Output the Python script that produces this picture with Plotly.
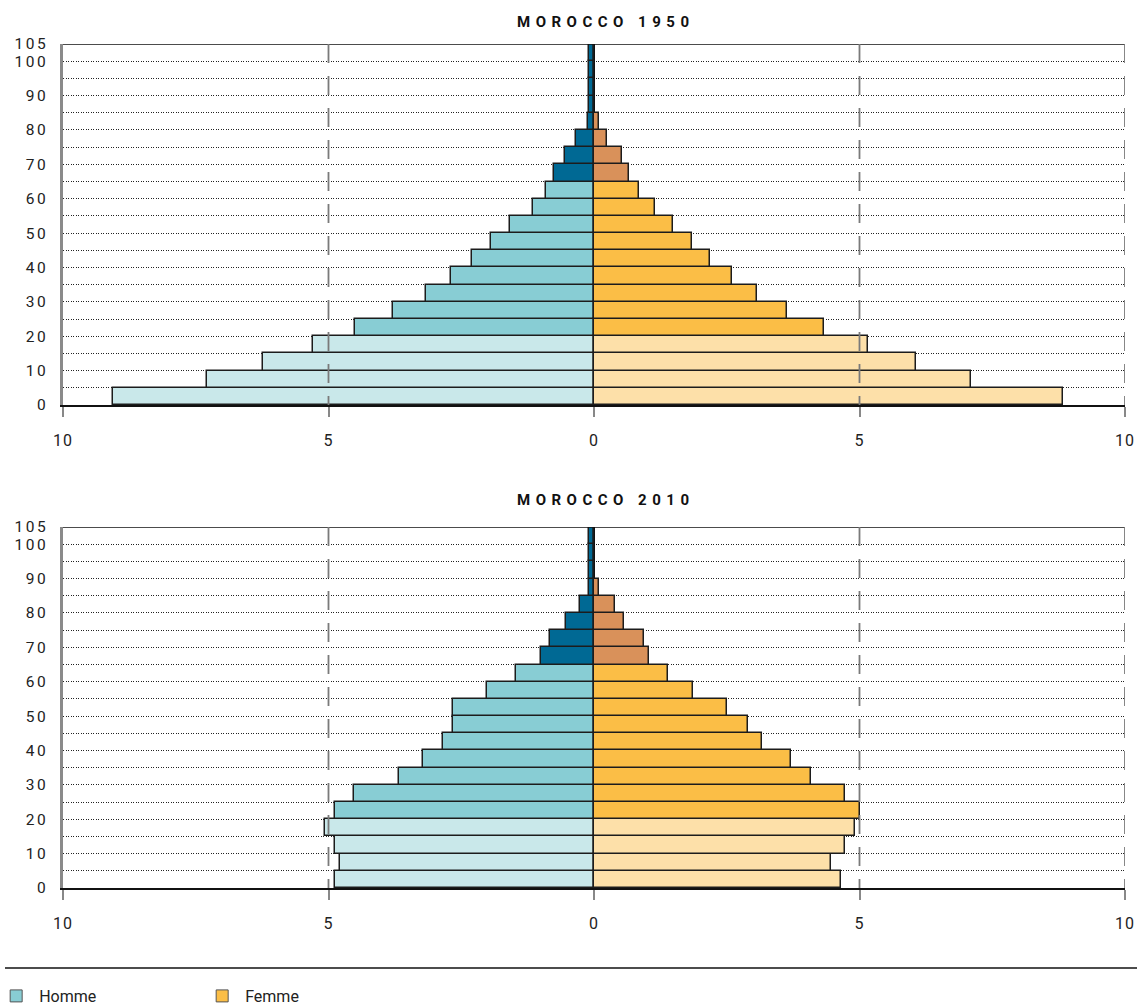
import plotly.graph_objects as go

# ---------------- data ----------------
age_start = [0, 5, 10, 15, 20, 25, 30, 35, 40, 45, 50, 55, 60, 65, 70, 75, 80, 85, 90, 95, 100]
age_labels = ["0-4", "5-9", "10-14", "15-19", "20-24", "25-29", "30-34", "35-39", "40-44",
              "45-49", "50-54", "55-59", "60-64", "65-69", "70-74", "75-79", "80-84",
              "85-89", "90-94", "95-99", "100+"]

homme_1950 = [9.06, 7.29, 6.23, 5.29, 4.50, 3.79, 3.16, 2.69, 2.30, 1.94, 1.58, 1.15, 0.90,
              0.75, 0.55, 0.34, 0.11, 0.10, 0.10, 0.10, 0.10]
femme_1950 = [8.83, 7.10, 6.06, 5.16, 4.33, 3.63, 3.07, 2.60, 2.18, 1.85, 1.48, 1.15, 0.85,
              0.66, 0.52, 0.24, 0.09, 0.0, 0.0, 0.0, 0.0]

homme_2010 = [4.88, 4.79, 4.88, 5.07, 4.88, 4.52, 3.67, 3.22, 2.84, 2.66, 2.66, 2.02, 1.47,
              0.99, 0.82, 0.53, 0.26, 0.09, 0.09, 0.09, 0.09]
femme_2010 = [4.65, 4.46, 4.73, 4.92, 5.01, 4.73, 4.09, 3.71, 3.16, 2.90, 2.50, 1.87, 1.40,
              1.03, 0.94, 0.57, 0.40, 0.10, 0.0, 0.0, 0.0]

x_tickvals = [-10, -5, 0, 5, 10]
x_ticktext = ["10", "5", "0", "5", "10"]
y_tickvals = [0, 10, 20, 30, 40, 50, 60, 70, 80, 90, 100, 105]
y_ticktext = ["0", "10", "20", "30", "40", "50", "60", "70", "80", "90", "100", "105"]

titles = ["MOROCCO 1950", "MOROCCO 2010"]
legend_names = ["Homme", "Femme"]

# ---------------- styles ----------------
H_COLORS = {"young": "#c9e8ea", "adult": "#88cdd4", "old": "#006994"}
F_COLORS = {"young": "#fde0a9", "adult": "#fbbe46", "old": "#d9915a"}
FONT = "Roboto, 'DejaVu Sans', sans-serif"
W, H = 1140, 1005


def group(a):
    if a < 20:
        return "young"
    if a < 65:
        return "adult"
    return "old"


h_cols = [H_COLORS[group(a)] for a in age_start]
f_cols = [F_COLORS[group(a)] for a in age_start]
y_mid = [a + 2.5 for a in age_start]

fig = go.Figure()

datasets = [(homme_1950, femme_1950, "x", "y"), (homme_2010, femme_2010, "x2", "y2")]
for hv, fv, xa, ya in datasets:
    fig.add_trace(go.Bar(
        orientation="h", y=y_mid, x=[-v for v in hv], width=5,
        marker=dict(color=h_cols, line=dict(color="#1c1c1c", width=1.5)),
        customdata=list(zip(age_labels, hv)),
        hovertemplate="Homme %{customdata[0]}: %{customdata[1]}<extra></extra>",
        showlegend=False, xaxis=xa, yaxis=ya))
    fig.add_trace(go.Bar(
        orientation="h", y=y_mid, x=fv, width=5,
        marker=dict(color=f_cols, line=dict(color="#1c1c1c", width=1.5)),
        customdata=list(zip(age_labels, fv)),
        hovertemplate="Femme %{customdata[0]}: %{customdata[1]}<extra></extra>",
        showlegend=False, xaxis=xa, yaxis=ya))

# legend entries
fig.add_trace(go.Bar(x=[None], y=[None], name=legend_names[0], orientation="h",
                     marker=dict(color=H_COLORS["adult"], line=dict(color="#555", width=1)),
                     xaxis="x", yaxis="y"))
fig.add_trace(go.Bar(x=[None], y=[None], name=legend_names[1], orientation="h",
                     marker=dict(color=F_COLORS["adult"], line=dict(color="#555", width=1)),
                     xaxis="x", yaxis="y"))

xdom = [63 / W, 1125 / W]
ydoms = [[1 - 405 / H, 1 - 44 / H], [1 - 888 / H, 1 - 527 / H]]


def xaxis_cfg(anchor):
    return dict(domain=xdom, anchor=anchor, range=[-10, 10], tickvals=x_tickvals,
                ticktext=x_ticktext, showgrid=False, zeroline=True, zerolinecolor="#111",
                zerolinewidth=1.5, showline=True, linecolor="#111", linewidth=1.5,
                ticks="outside", ticklen=10, tickwidth=2, tickcolor="#888",
                ticklabelstandoff=10, automargin=False,
                tickfont=dict(family=FONT, size=16, color="#222"), fixedrange=True)


def yaxis_cfg(anchor, dom):
    return dict(domain=dom, anchor=anchor, range=[0, 105], tickvals=y_tickvals,
                ticktext=y_ticktext, showgrid=True, gridcolor="#222", gridwidth=1,
                griddash="1px,1.5px", zeroline=False, showline=True, linecolor="#8a8a8a",
                linewidth=2.5, ticks="", ticklabelstandoff=9, automargin=False,
                minor=dict(tick0=0, dtick=5, showgrid=True, gridcolor="#222", gridwidth=1,
                           griddash="1px,1.5px", ticks=""),
                tickfont=dict(family=FONT, size=15.5, color="#222"), fixedrange=True)


shapes = []
for xr, yr in [("x", "y"), ("x2", "y2")]:
    shapes.append(dict(type="line", xref=xr, yref=yr, x0=-10, x1=10, y0=105, y1=105,
                       line=dict(color="#111", width=1.5), layer="above"))
    for xv in [-5, 5, 10]:
        shapes.append(dict(type="line", xref=xr, yref=yr, x0=xv, x1=xv, y0=105, y1=0,
                           line=dict(color="#7a7a7a", width=1.8, dash="19px,13px"),
                           layer="above"))
shapes.append(dict(type="line", xref="paper", yref="paper", x0=5 / W, x1=1137 / W,
                   y0=1 - 968 / H, y1=1 - 968 / H, line=dict(color="#111", width=1.5)))

annotations = []
for t, ypx in zip(titles, [22, 500]):
    annotations.append(dict(text="<b>" + t + "</b>", xref="paper", yref="paper",
                            x=606 / W, y=1 - ypx / H, xanchor="center", yanchor="middle",
                            showarrow=False, font=dict(family=FONT, size=15, color="#111")))

fig.update_layout(
    width=W, height=H, margin=dict(l=0, r=0, t=0, b=0, autoexpand=False),
    paper_bgcolor="white", plot_bgcolor="white", barmode="overlay", bargap=0,
    xaxis=xaxis_cfg("y"), yaxis=yaxis_cfg("x", ydoms[0]),
    xaxis2=xaxis_cfg("y2"), yaxis2=yaxis_cfg("x2", ydoms[1]),
    shapes=shapes, annotations=annotations,
    legend=dict(orientation="h", x=-0.006, y=1 - 996 / H, xanchor="left", yanchor="middle",
                entrywidth=155, entrywidthmode="pixels", itemwidth=36,
                font=dict(family=FONT, size=16, color="#222"), bgcolor="rgba(0,0,0,0)"),
    font=dict(family=FONT),
)

post = """
document.body.style.margin = '0';
document.body.style.padding = '0';
document.body.style.overflow = 'hidden';
var gd = document.getElementById('{plot_id}');
function spacing(){
  gd.querySelectorAll('.annotation-text').forEach(function(t){ t.style.letterSpacing='5.5px'; });
  gd.querySelectorAll('.ytick text, .y2tick text').forEach(function(t){ t.style.letterSpacing='2.5px'; });
  gd.querySelectorAll('.xtick text, .x2tick text').forEach(function(t){ t.style.letterSpacing='1px'; });
}
spacing();
gd.on('plotly_afterplot', spacing);
"""

fig.write_html("out.html", post_script=post, config={"displayModeBar": False})
